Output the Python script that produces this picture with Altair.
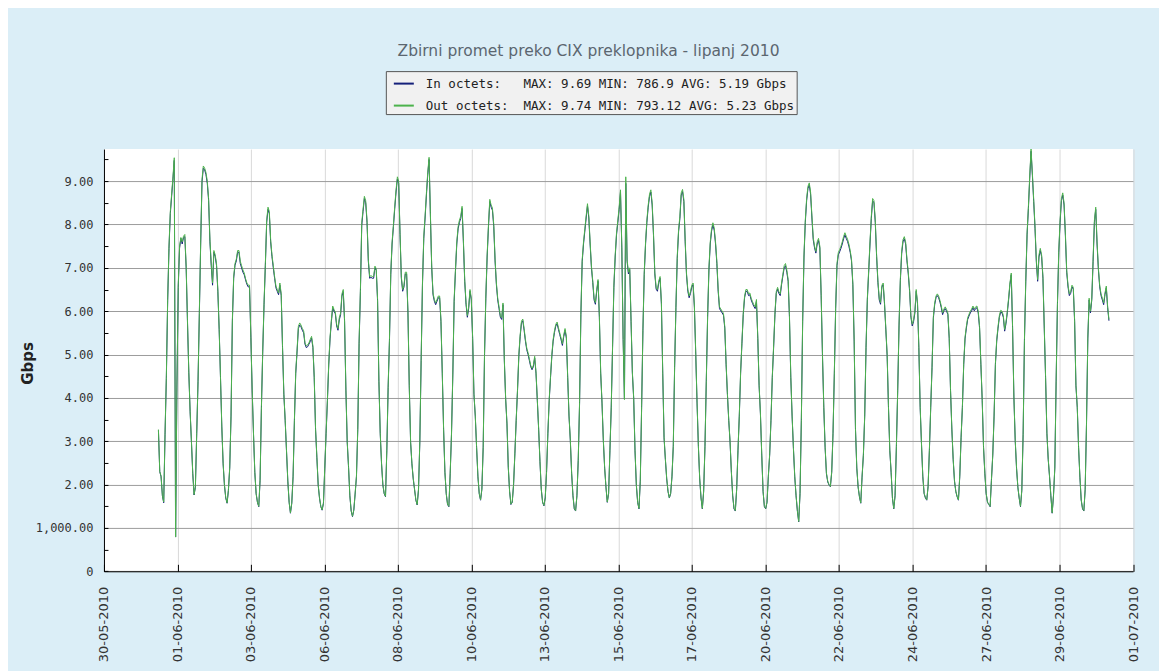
import altair as alt
import pandas as pd
import numpy as np
from datetime import datetime, timezone

TITLE = "Zbirni promet preko CIX preklopnika - lipanj 2010"
SERIES = ["In octets:", "Out octets:"]
SERIES_STATS = ["MAX: 9.69 MIN: 786.9 AVG: 5.19 Gbps",
                "MAX: 9.74 MIN: 793.12 AVG: 5.23 Gbps"]
SERIES_COLORS = ["#15207a", "#4cb34c"]
Y_TICKS = [0, 1, 2, 3, 4, 5, 6, 7, 8, 9]
Y_TICK_LABELS = ["0", "1,000.00", "2.00", "3.00", "4.00", "5.00",
                 "6.00", "7.00", "8.00", "9.00"]
Y_MINOR_TICKS = [0, 0.5, 1, 1.5, 2, 2.5, 3, 3.5, 4, 4.5, 5, 5.5, 6, 6.5,
                 7, 7.5, 8, 8.5, 9, 9.5]
Y_MAX = 9.74
X_START = datetime(2010, 5, 30, 6, 44, tzinfo=timezone.utc)
X_END = datetime(2010, 7, 1, 18, 14, tzinfo=timezone.utc)
X_TICK_COUNT = 15
DATA_START = datetime(2010, 6, 1, 0, 0, tzinfo=timezone.utc)

# hourly values (Gbps), one row per day, 1-30 June 2010
OUT_DAYS = [
    [3.27,2.3,2.2,1.75,1.6,3.2,4.5,6.3,7.5,8.3,8.7,9.1,9.54,0.79,4.3,6.6,7.5,7.7,7.6,7.73,7.77,7.04,5.8,4.6],
    [3.7,3.0,2.27,1.77,1.96,3.2,4.4,6.0,7.6,9.04,9.35,9.3,9.2,9.0,8.6,7.65,7.1,6.65,7.4,7.3,7.1,6.5,5.6,4.5],
    [3.35,2.5,2.0,1.7,1.58,1.88,2.4,3.6,5.8,6.8,7.1,7.2,7.4,7.4,7.15,7.05,6.95,6.88,6.75,6.65,6.6,6.6,5.42,4.2],
    [3.19,2.3,1.8,1.6,1.5,2.12,3.8,5.1,6.2,7.1,8.1,8.4,8.3,7.65,7.3,7.05,6.8,6.58,6.5,6.42,6.65,6.4,5.19,4.1],
    [3.5,2.8,2.1,1.6,1.35,1.58,2.2,3.5,4.6,5.1,5.65,5.73,5.68,5.6,5.55,5.27,5.2,5.22,5.27,5.35,5.42,5.2,4.5,3.3],
    [2.65,2.0,1.7,1.5,1.42,1.58,2.4,3.2,3.96,4.8,5.4,5.8,6.12,6.04,5.98,5.7,5.6,5.85,5.96,6.4,6.5,5.8,4.2,3.0],
    [2.42,1.75,1.4,1.27,1.42,1.8,2.2,3.3,5.3,6.5,8.04,8.35,8.65,8.55,8.1,7.19,6.8,6.82,6.8,6.8,7.04,6.98,6.27,4.4],
    [3.2,2.5,2.0,1.8,1.73,2.8,4.27,5.35,6.9,7.6,8.0,8.42,8.8,9.1,9.0,7.81,6.8,6.5,6.6,6.9,6.9,6.0,4.3,3.0],
    [2.5,2.15,1.9,1.65,1.54,1.9,3.0,4.9,6.65,7.73,8.2,8.73,9.2,9.55,8.27,7.04,6.42,6.27,6.19,6.27,6.35,6.35,5.8,4.6],
    [3.3,2.3,1.8,1.55,1.5,2.27,3.19,4.58,6.27,6.96,7.6,7.95,8.1,8.19,8.42,7.65,6.73,6.2,5.9,6.1,6.5,6.3,5.4,4.1],
    [3.6,2.88,2.2,1.8,1.65,1.9,2.88,5.0,6.35,7.3,8.0,8.58,8.45,8.38,8.0,7.2,6.65,6.3,6.1,5.9,5.85,6.19,4.9,4.0],
    [3.42,2.42,1.85,1.55,1.6,2.0,2.73,3.5,4.2,5.0,5.45,5.77,5.82,5.6,5.35,5.15,5.04,4.9,4.75,4.68,4.75,4.96,4.6,3.96],
    [3.3,2.55,1.9,1.6,1.52,1.7,2.3,3.2,3.96,4.5,5.0,5.35,5.55,5.7,5.75,5.62,5.5,5.38,5.25,5.45,5.6,5.42,4.5,3.6],
    [3.04,2.27,1.75,1.45,1.4,1.75,2.58,3.9,5.96,7.19,7.6,7.9,8.2,8.48,8.2,7.6,7.04,6.7,6.3,6.2,6.5,6.73,5.9,4.6],
    [3.9,3.04,2.4,1.95,1.6,1.8,2.8,3.8,5.2,6.6,7.3,7.81,8.1,8.4,8.8,7.5,5.35,3.96,9.1,7.2,6.9,7.0,5.8,4.6],
    [4.0,2.8,2.0,1.6,1.45,2.1,3.8,5.6,6.9,7.6,8.1,8.45,8.7,8.8,8.5,7.8,6.9,6.55,6.5,6.7,6.8,6.2,4.6,3.1],
    [2.6,2.15,1.85,1.7,1.8,2.2,2.9,4.73,6.12,7.27,7.88,8.19,8.73,8.81,8.58,7.65,6.88,6.5,6.35,6.45,6.6,6.65,6.12,5.04],
    [3.9,2.9,2.15,1.7,1.45,1.85,2.9,4.4,5.9,7.0,7.6,7.9,8.04,7.92,7.6,7.15,6.5,6.1,6.05,6.0,5.95,5.65,4.8,4.1],
    [3.5,3.0,2.3,1.75,1.45,1.4,1.9,2.8,3.6,4.6,5.3,5.96,6.35,6.5,6.5,6.4,6.42,6.3,6.22,6.15,6.1,6.27,5.4,4.3],
    [3.65,2.7,1.85,1.5,1.45,1.6,2.2,2.7,3.5,4.5,5.2,5.96,6.45,6.55,6.45,6.4,6.65,6.85,7.05,7.1,6.95,6.73,5.9,4.5],
    [3.6,2.85,2.2,1.75,1.4,1.15,1.8,3.5,5.8,7.3,8.1,8.6,8.88,8.96,8.75,8.2,7.7,7.5,7.38,7.6,7.68,7.5,6.4,5.0],
    [3.81,2.88,2.27,2.08,2.0,1.96,2.3,3.2,4.6,6.1,7.1,7.35,7.42,7.5,7.6,7.72,7.81,7.73,7.66,7.55,7.4,7.2,6.65,5.35],
    [3.3,2.4,1.95,1.73,1.58,2.19,2.7,3.6,5.2,6.3,6.95,7.6,8.19,8.6,8.55,8.1,7.3,6.7,6.3,6.2,6.6,6.65,6.2,5.6],
    [5.0,3.8,2.8,2.3,1.7,1.45,1.75,2.9,4.2,5.7,6.75,7.38,7.65,7.72,7.6,7.2,6.9,6.5,5.9,5.7,5.8,6.0,6.5,6.2],
    [5.19,3.81,2.96,2.2,1.8,1.7,1.65,1.96,2.81,3.81,4.73,5.88,6.19,6.35,6.4,6.35,6.25,6.12,5.96,6.05,6.1,6.04,5.96,5.4],
    [4.2,3.3,2.6,2.1,1.85,1.73,1.65,2.2,3.1,3.8,4.8,5.4,5.65,5.85,5.93,6.0,6.05,6.12,6.05,6.1,6.12,6.0,5.65,4.8],
    [3.96,2.88,2.27,1.8,1.6,1.55,1.5,2.12,2.7,3.6,4.8,5.35,5.65,5.9,6.02,6.0,5.9,5.58,5.75,6.0,6.3,6.65,6.88,5.65],
    [4.04,3.04,2.4,1.95,1.7,1.5,1.88,3.19,5.35,6.73,7.81,8.42,9.12,9.74,9.19,8.58,7.96,7.19,6.73,7.3,7.45,7.3,6.8,5.65],
    [4.5,3.2,2.6,2.2,1.75,1.35,1.75,2.4,4.4,6.2,7.4,8.1,8.6,8.73,8.5,7.8,6.95,6.6,6.4,6.45,6.6,6.55,5.8,4.3],
    [3.8,2.88,2.19,1.65,1.45,1.4,1.9,3.4,5.4,6.3,6.0,6.3,7.2,8.1,8.4,7.6,7.0,6.6,6.4,6.3,6.19,6.42,6.58,6.12],
]
OUT_LAST = 5.81

IN_DAYS = [
    [3.25,2.3,2.18,1.74,1.58,3.15,4.45,6.25,7.45,8.25,8.65,9.05,9.48,0.79,4.25,6.55,7.45,7.68,7.55,7.7,7.72,7.0,5.75,4.58],
    [3.68,2.98,2.25,1.76,1.94,3.18,4.38,5.95,7.55,8.98,9.3,9.26,9.15,8.95,8.56,7.6,7.05,6.6,7.36,7.26,7.05,6.46,5.58,4.48],
    [3.33,2.48,1.98,1.69,1.57,1.86,2.38,3.58,5.75,6.76,7.06,7.16,7.36,7.36,7.1,7.0,6.9,6.84,6.72,6.62,6.56,6.56,5.4,4.18],
    [3.17,2.28,1.79,1.59,1.49,2.1,3.76,5.06,6.16,7.06,8.05,8.35,8.25,7.6,7.26,7.0,6.76,6.54,6.46,6.38,6.6,6.36,5.16,4.08],
    [3.48,2.78,2.08,1.59,1.34,1.57,2.18,3.47,4.56,5.06,5.6,5.68,5.64,5.56,5.5,5.24,5.16,5.18,5.24,5.3,5.38,5.16,4.47,3.28],
    [2.63,1.99,1.69,1.49,1.41,1.57,2.38,3.18,3.93,4.76,5.36,5.76,6.08,6.0,5.94,5.66,5.56,5.8,5.92,6.35,6.45,5.76,4.18,2.98],
    [2.4,1.74,1.39,1.26,1.41,1.78,2.18,3.27,5.26,6.45,7.98,8.3,8.6,8.5,8.05,7.15,6.76,6.78,6.76,6.76,7.0,6.94,6.23,4.38],
    [3.18,2.48,1.99,1.79,1.72,2.78,4.24,5.31,6.85,7.55,7.95,8.37,8.75,9.05,8.95,7.77,6.76,6.46,6.56,6.86,6.86,5.96,4.28,2.98],
    [2.48,2.13,1.89,1.64,1.53,1.88,2.98,4.86,6.6,7.68,8.15,8.68,9.15,9.5,8.22,7.0,6.38,6.23,6.15,6.23,6.31,6.31,5.76,4.57],
    [3.28,2.28,1.79,1.54,1.49,2.25,3.16,4.55,6.22,6.92,7.55,7.9,8.05,8.14,8.37,7.6,6.69,6.16,5.86,6.06,6.46,6.26,5.37,4.08],
    [3.58,2.86,2.18,1.79,1.64,1.89,2.86,4.96,6.3,7.25,7.95,8.53,8.4,8.33,7.95,7.16,6.61,6.26,6.06,5.86,5.81,6.15,4.87,3.98],
    [3.4,2.4,1.84,1.54,1.59,1.99,2.71,3.48,4.17,4.96,5.41,5.73,5.78,5.56,5.31,5.11,5.0,4.86,4.72,4.65,4.72,4.92,4.57,3.94],
    [3.28,2.53,1.89,1.59,1.51,1.69,2.28,3.18,3.93,4.47,4.96,5.31,5.51,5.66,5.71,5.58,5.46,5.34,5.21,5.41,5.56,5.38,4.47,3.58],
    [3.02,2.25,1.74,1.44,1.39,1.74,2.56,3.87,5.92,7.14,7.55,7.85,8.15,8.43,8.15,7.55,7.0,6.66,6.26,6.16,6.46,6.69,5.86,4.57],
    [3.88,3.02,2.38,1.94,1.59,1.79,2.78,3.77,5.16,6.55,7.25,7.76,8.05,8.35,8.75,7.46,5.35,3.98,8.95,7.15,6.86,6.96,5.76,4.57],
    [3.98,2.78,1.99,1.59,1.44,2.08,3.77,5.56,6.85,7.55,8.05,8.4,8.65,8.75,8.45,7.75,6.86,6.51,6.46,6.66,6.76,6.16,4.57,3.08],
    [2.58,2.13,1.84,1.69,1.79,2.18,2.88,4.7,6.08,7.22,7.83,8.14,8.68,8.76,8.53,7.6,6.84,6.46,6.31,6.41,6.56,6.61,6.08,5.0],
    [3.88,2.88,2.13,1.69,1.44,1.84,2.88,4.37,5.86,6.95,7.55,7.85,7.99,7.87,7.55,7.1,6.46,6.06,6.01,5.96,5.91,5.61,4.77,4.08],
    [3.48,2.98,2.28,1.74,1.44,1.39,1.89,2.78,3.58,4.57,5.26,5.92,6.31,6.46,6.46,6.36,6.38,6.26,6.18,6.11,6.06,6.23,5.37,4.28],
    [3.63,2.68,1.84,1.49,1.44,1.59,2.18,2.68,3.48,4.47,5.16,5.92,6.41,6.51,6.41,6.36,6.61,6.81,7.0,7.05,6.9,6.69,5.86,4.47],
    [3.58,2.83,2.18,1.74,1.39,1.14,1.79,3.48,5.76,7.25,8.05,8.55,8.83,8.91,8.7,8.15,7.65,7.46,7.34,7.55,7.63,7.46,6.36,4.97],
    [3.78,2.86,2.25,2.06,1.99,1.95,2.28,3.18,4.57,6.06,7.05,7.3,7.37,7.45,7.55,7.67,7.76,7.68,7.61,7.5,7.36,7.16,6.61,5.31],
    [3.28,2.38,1.94,1.72,1.57,2.17,2.68,3.58,5.16,6.26,6.9,7.55,8.14,8.55,8.5,8.05,7.26,6.66,6.26,6.16,6.56,6.61,6.16,5.57],
    [4.97,3.78,2.78,2.28,1.69,1.44,1.74,2.88,4.17,5.66,6.7,7.33,7.6,7.67,7.55,7.16,6.86,6.46,5.86,5.66,5.76,5.96,6.46,6.16],
    [5.16,3.78,2.94,2.18,1.79,1.69,1.64,1.95,2.79,3.78,4.7,5.84,6.15,6.31,6.36,6.31,6.21,6.08,5.92,6.01,6.06,6.0,5.92,5.37],
    [4.17,3.28,2.58,2.08,1.84,1.72,1.64,2.18,3.08,3.78,4.77,5.36,5.61,5.81,5.89,5.96,6.01,6.08,6.01,6.06,6.08,5.96,5.61,4.77],
    [3.94,2.86,2.25,1.79,1.59,1.54,1.49,2.1,2.68,3.58,4.77,5.31,5.61,5.86,5.98,5.96,5.86,5.54,5.71,5.96,6.26,6.61,6.84,5.61],
    [4.02,3.02,2.38,1.94,1.69,1.49,1.86,3.16,5.31,6.68,7.76,8.37,9.07,9.69,9.14,8.53,7.91,7.14,6.69,7.25,7.4,7.26,6.76,5.61],
    [4.47,3.18,2.58,2.18,1.74,1.34,1.74,2.38,4.37,6.16,7.35,8.05,8.55,8.68,8.45,7.75,6.9,6.56,6.36,6.41,6.56,6.51,5.76,4.28],
    [3.78,2.86,2.17,1.64,1.44,1.39,1.89,3.38,5.36,6.26,5.96,6.26,7.15,8.05,8.35,7.55,6.96,6.56,6.36,6.26,6.15,6.38,6.54,6.08],
]
IN_LAST = 5.78

# ---------------------------------------------------------------- data table
NBSP = "\u00a0"
LABELS = [s + NBSP * (13 - len(s)) + st.replace(" ", NBSP)
          for s, st in zip(SERIES, SERIES_STATS)]

def ms(dt):
    return dt.timestamp() * 1000.0

out_vals = [v for day in OUT_DAYS for v in day] + [OUT_LAST]
in_vals = [v for day in IN_DAYS for v in day] + [IN_LAST]
t0 = ms(DATA_START)
times = [t0 + i * 3600000.0 for i in range(len(out_vals))]

df = pd.concat([
    pd.DataFrame({"t": times, "v": in_vals, "s": LABELS[0]}),
    pd.DataFrame({"t": times, "v": out_vals, "s": LABELS[1]}),
], ignore_index=True)

x_ticks = list(np.linspace(ms(X_START), ms(X_END), X_TICK_COUNT))

W, H = 1029.5, 422.4

x_scale = alt.Scale(type="utc", domain=[ms(X_START), ms(X_END)], nice=False)
y_scale = alt.Scale(domain=[0, Y_MAX], nice=False, zero=True)
color_scale = alt.Scale(domain=LABELS, range=SERIES_COLORS)

label_expr = "[" + ",".join("'" + s + "'" for s in Y_TICK_LABELS) + "][datum.value]"

legend = alt.Legend(
    title=None, orient="none", legendX=282, legendY=-78, direction="vertical",
    fillColor="#f1f1f1", strokeColor="#555555", padding=1.5, rowPadding=4,
    symbolType="stroke", symbolSize=400, symbolStrokeWidth=2, symbolOffset=5.5,
    labelFont="DejaVu Sans Mono", labelFontSize=12.5, labelColor="#222222",
    labelOffset=11, labelLimit=0, cornerRadius=0,
)

base = alt.Chart(df)

in_layer = base.transform_filter(alt.datum.s == LABELS[0]).mark_line(
    strokeWidth=1.0, interpolate="linear"
).encode(
    x=alt.X("t:T", scale=x_scale, axis=alt.Axis(
        values=x_ticks, format="%d-%m-%Y", labelAngle=270, labelAlign="right",
        labelBaseline="middle", labelPadding=15, ticks=False, grid=True,
        gridColor="#d9d9d9", gridWidth=1, domainColor="#000000", domainWidth=1,
        labelFont="DejaVu Sans", labelFontSize=13, labelColor="#333333",
        labelOverlap=False, labelFlush=False, labelBound=False, title=None)),
    y=alt.Y("v:Q", scale=y_scale, axis=alt.Axis(
        values=Y_TICKS, labelExpr=label_expr, grid=True, gridColor="#9c9c9c",
        gridWidth=1, ticks=False, domainColor="#000000", domainWidth=1,
        labelFont="DejaVu Sans Mono", labelFontSize=12, labelColor="#333333",
        labelPadding=11, title="Gbps", titleFont="DejaVu Sans", titleFontSize=15,
        titleFontWeight="bold", titleColor="#222222", titleAngle=270,
        titleX=-76, titleY=214, titleAlign="center", titleBaseline="middle")),
    color=alt.Color("s:N", scale=color_scale, legend=legend),
)

out_layer = base.transform_filter(alt.datum.s == LABELS[1]).mark_line(
    strokeWidth=1.0, interpolate="linear"
).encode(
    x=alt.X("t:T", scale=x_scale, axis=None),
    y=alt.Y("v:Q", scale=y_scale, axis=None),
    color=alt.Color("s:N", scale=color_scale, legend=legend),
)

tick_layer = base.transform_filter(alt.datum.s == LABELS[1]).mark_line(
    opacity=0
).encode(
    x=alt.X("t:T", scale=x_scale, axis=alt.Axis(
        orient="top", offset=-H, values=x_ticks, labels=False, domain=False,
        grid=False, ticks=True, tickSize=7, tickColor="#000000", title=None)),
    y=alt.Y("v:Q", scale=y_scale, axis=alt.Axis(
        orient="right", offset=-W, values=Y_MINOR_TICKS, labels=False,
        domain=False, grid=False, ticks=True, tickSize=4, tickColor="#000000",
        title=None)),
)

chart = alt.layer(in_layer, out_layer, tick_layer).resolve_axis(
    x="independent", y="independent"
).properties(
    width=W, height=H,
    autosize=alt.AutoSizeParams(type="none"),
    padding={"left": 96, "top": 141, "right": 26, "bottom": 100},
    title=alt.TitleParams(
        text=TITLE, font="DejaVu Sans", fontSize=15.5, fontWeight="normal",
        color="#5b6670", anchor="middle", frame="group", dx=-30, dy=15,
        offset=14, baseline="alphabetic"),
    background="#dbeef7",
).configure_view(stroke=None, fill="white")

chart.save("out.html", embed_options={"renderer": "svg", "actions": False})
